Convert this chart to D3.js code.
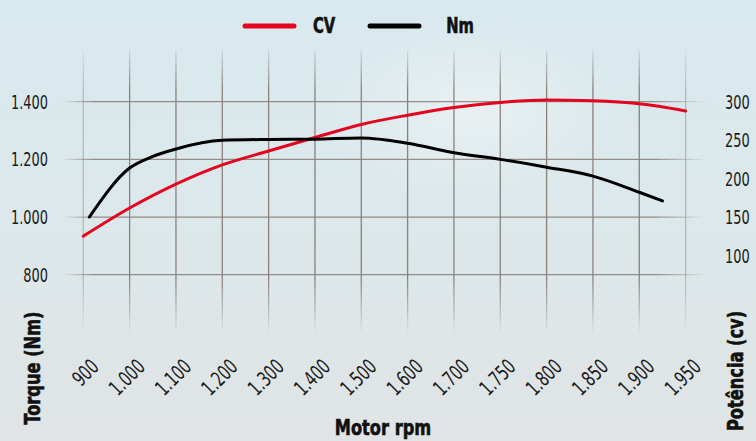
<!DOCTYPE html>
<html>
<head>
<meta charset="utf-8">
<script src="https://cdn.jsdelivr.net/npm/d3@7"></script>
<style>
  html, body { margin: 0; padding: 0; }
  svg { display: block; }
</style>
</head>
<body>
<svg id="chart" width="756" height="441"></svg>
<script>
// rpm categories (evenly spaced on the chart, even though the steps are not)
var rpmTicks = [900, 1000, 1100, 1200, 1300, 1400, 1500, 1600, 1700, 1750, 1800, 1850, 1900, 1950];

// left axis (torque) and right axis (power) ticks
var nmTicks = [800, 1000, 1200, 1400];
var cvTicks = [100, 150, 200, 250, 300];

// CV curve (red, right axis)
var cvRpm    = [900, 1000, 1100, 1200, 1300, 1400, 1500, 1600, 1700, 1750, 1800, 1850, 1900, 1950];
var cvValues = [125.5, 162, 193, 218, 236, 253.5, 270.5, 282.5, 292.5, 299, 302.3, 301.2, 297.2, 288];

// Nm curve (black, left axis)
var nmRpm    = [913, 1000, 1050, 1100, 1200, 1300, 1400, 1500, 1600, 1700, 1750, 1800, 1850, 1900, 1925];
var nmValues = [1000, 1170, 1210, 1236, 1266, 1269, 1270, 1274, 1256, 1223, 1200, 1173, 1142, 1086, 1056];

var legendItems = [
  {name: "CV", color: "#e3051f"},
  {name: "Nm", color: "#000000"}
];

var font = "'Liberation Sans Narrow', 'DejaVu Sans Condensed', 'Roboto', sans-serif";

var fmt = d3.formatLocale({decimal: ",", thousands: ".", grouping: [3], currency: ["", ""]}).format(",d");

var svg = d3.select("#chart");
var defs = svg.append("defs");

// background
var bg = defs.append("linearGradient").attr("id", "bg")
  .attr("x1", 0).attr("y1", 0).attr("x2", 0).attr("y2", 1);
bg.append("stop").attr("offset", "0%").attr("stop-color", "#d8e9ef");
bg.append("stop").attr("offset", "45%").attr("stop-color", "#dce8eb");
bg.append("stop").attr("offset", "100%").attr("stop-color", "#e0e4e5");
svg.append("rect").attr("width", 756).attr("height", 441).attr("fill", "url(#bg)");

var glow = defs.append("radialGradient").attr("id", "glow");
glow.append("stop").attr("offset", "0%").attr("stop-color", "#f2f5f5").attr("stop-opacity", 0.6);
glow.append("stop").attr("offset", "100%").attr("stop-color", "#f2f5f5").attr("stop-opacity", 0);
svg.append("ellipse").attr("cx", 470).attr("cy", 110).attr("rx", 160).attr("ry", 90).attr("fill", "url(#glow)");

// scales
var xIdx = d3.scaleLinear().domain([0, rpmTicks.length - 1]).range([83.3, 685.6]);
var x = d3.scaleLinear().domain(rpmTicks).range(rpmTicks.map(function(d, i) { return xIdx(i); }));
var yL = d3.scaleLinear().domain([800, 1400]).range([274.7, 101.7]);
var yR = d3.scaleLinear().domain([150, 300]).range([217.3, 101.7]);

// fading grid strokes
var gv = defs.append("linearGradient").attr("id", "gv").attr("gradientUnits", "userSpaceOnUse")
  .attr("x1", 0).attr("y1", 50).attr("x2", 0).attr("y2", 334);
[[0, 0.15], [0.14, 1], [0.8, 1], [1, 0]].forEach(function(s) {
  gv.append("stop").attr("offset", s[0]).attr("stop-color", "#8a817c").attr("stop-opacity", s[1]);
});
var gh = defs.append("linearGradient").attr("id", "gh").attr("gradientUnits", "userSpaceOnUse")
  .attr("x1", 62).attr("y1", 0).attr("x2", 706).attr("y2", 0);
[[0, 0], [0.05, 0.9], [0.92, 0.9], [1, 0]].forEach(function(s) {
  gh.append("stop").attr("offset", s[0]).attr("stop-color", "#8a817c").attr("stop-opacity", s[1]);
});

var grid = svg.append("g").attr("class", "grid");
grid.selectAll("line.v").data(rpmTicks).join("line").attr("class", "v")
  .attr("x1", function(d) { return x(d); }).attr("x2", function(d) { return x(d); })
  .attr("y1", 50).attr("y2", 334)
  .attr("stroke", "url(#gv)").attr("stroke-width", 1.3)
  .attr("opacity", function(d, i) { return (i === 0 || i === rpmTicks.length - 1) ? 0.45 : 1; });
grid.selectAll("line.h").data(nmTicks).join("line").attr("class", "h")
  .attr("x1", 62).attr("x2", 706)
  .attr("y1", function(d) { return yL(d); }).attr("y2", function(d) { return yL(d); })
  .attr("stroke", "url(#gh)").attr("stroke-width", 1.3);

// axes (labels only); the text is squeezed sideways to get a condensed look
var left = svg.append("g").attr("transform", "translate(48,0)")
  .call(d3.axisLeft(yL).tickValues(nmTicks).tickSize(0).tickPadding(0).tickFormat(fmt));
var right = svg.append("g").attr("transform", "translate(725,0)")
  .call(d3.axisRight(yR).tickValues(cvTicks).tickSize(0).tickPadding(0));
var bottom = svg.append("g").attr("transform", "translate(0,363)")
  .call(d3.axisBottom(x).tickValues(rpmTicks).tickSize(0).tickFormat(fmt));

[left, right, bottom].forEach(function(g) {
  g.select(".domain").remove();
  g.selectAll("text").attr("fill", "#1a1a1a")
    .style("font-family", font).style("font-size", "20px")
    .attr("transform", "scale(0.72,1)");
});
bottom.selectAll("text")
  .attr("x", 0).attr("y", 0).attr("dy", "0.35em")
  .attr("transform", "translate(11,0) rotate(-45) scale(0.75,1)")
  .style("font-size", "21px")
  .style("text-anchor", "end");

// curves
var line = d3.line().curve(d3.curveMonotoneX);
var cvData = cvRpm.map(function(r, i) { return [x(r), yR(cvValues[i])]; });
var nmData = nmRpm.map(function(r, i) { return [x(r), yL(nmValues[i])]; });

svg.append("path").attr("d", line(cvData)).attr("fill", "none")
  .attr("stroke", legendItems[0].color).attr("stroke-width", 3).attr("stroke-linecap", "round");
svg.append("path").attr("d", line(nmData)).attr("fill", "none")
  .attr("stroke", legendItems[1].color).attr("stroke-width", 3).attr("stroke-linecap", "round");

// legend
var lg = svg.append("g").selectAll("g").data(legendItems).join("g")
  .attr("transform", function(d, i) { return "translate(" + (245 + i * 125) + ",26)"; });
lg.append("line").attr("x1", 0).attr("x2", 49).attr("y1", 0).attr("y2", 0)
  .attr("stroke", function(d) { return d.color; }).attr("stroke-width", 5).attr("stroke-linecap", "round");
lg.append("text")
  .attr("transform", function(d, i) { return "translate(" + (79 + i * 11) + ",7) scale(0.78,1)"; })
  .attr("text-anchor", "middle").text(function(d) { return d.name; })
  .style("font-family", font).style("font-weight", "bold").style("font-size", "21px")
  .attr("fill", "#111").attr("stroke", "#111").attr("stroke-width", 0.6);

// axis titles
function title(txt, tx, ty, rot) {
  svg.append("text")
    .attr("transform", "translate(" + tx + "," + ty + ")" + (rot ? " rotate(" + rot + ")" : "") + " scale(0.82,1)")
    .attr("text-anchor", "middle")
    .style("font-family", font).style("font-weight", "bold").style("font-size", "22px")
    .attr("fill", "#111").attr("stroke", "#111").attr("stroke-width", 0.6).text(txt);
}
title("Torque (Nm)", 40, 368, -90);
title("Potência (cv)", 743, 371, -90);
title("Motor rpm", 383, 435, 0);
</script>
</body>
</html>
